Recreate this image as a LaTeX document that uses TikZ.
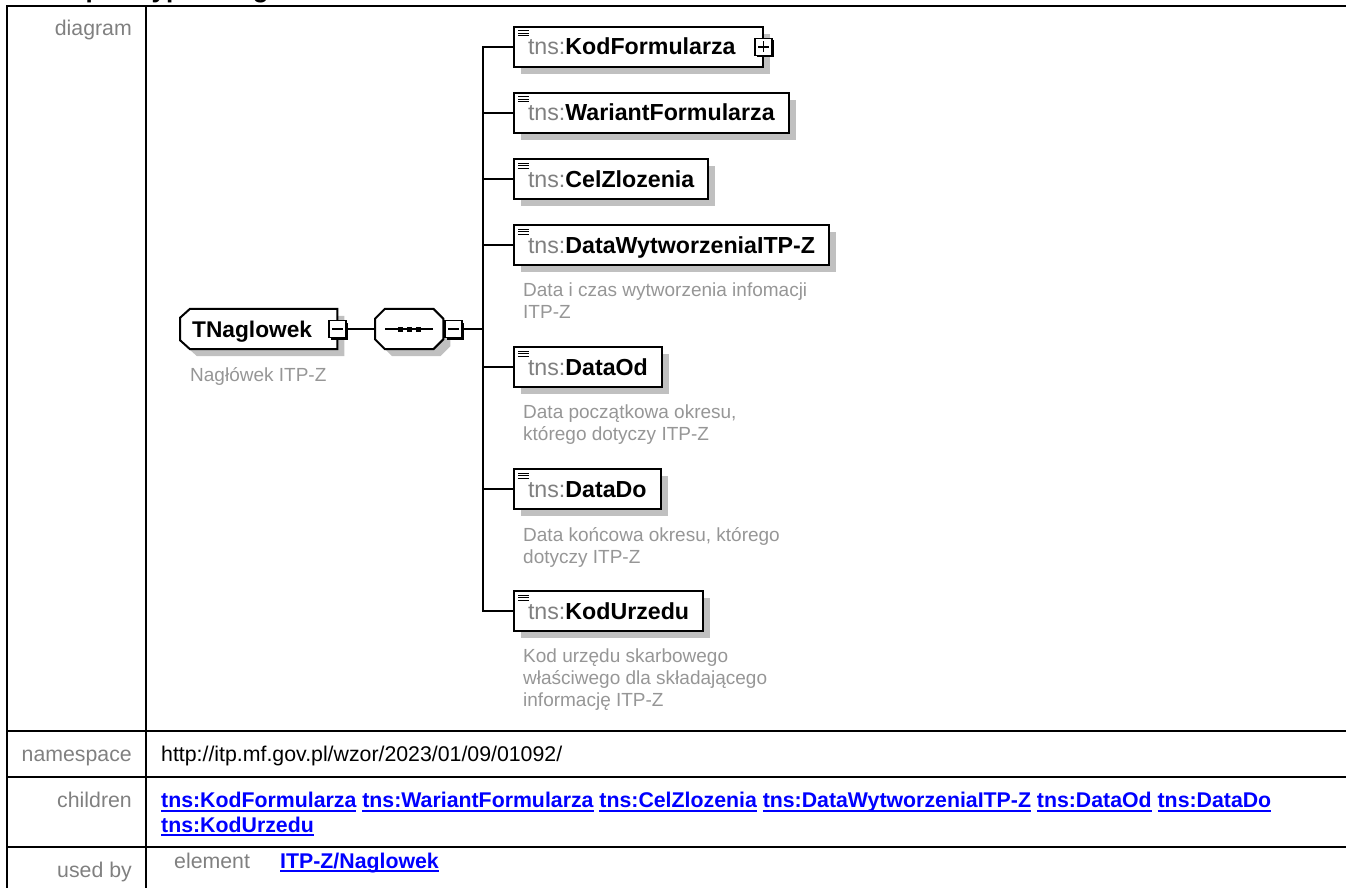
\documentclass[tikz,border=0pt]{standalone}
\usepackage{fontspec}
\setmainfont{Liberation Sans}
\usetikzlibrary{shadows}
\definecolor{labelgray}{RGB}{128,128,128}
\definecolor{prefixgray}{RGB}{128,128,128}
\definecolor{notegray}{RGB}{150,150,150}
\definecolor{shade}{RGB}{192,192,192}
\definecolor{linkblue}{RGB}{0,0,255}
\pgfdeclarelayer{back}
\pgfsetlayers{back,main}
\newcommand{\tns}[1]{{\color{prefixgray}tns:}\textbf{#1}}
\newcommand{\doclink}[1]{{\color{linkblue}\bfseries\setbox0=\hbox{#1}%
    \rlap{\rule[-4pt]{\wd0}{2pt}}\box0}}

\begin{document}
\begin{tikzpicture}[
    x=1pt, y=-1pt,
    grid/.style={line width=2pt},
    conn/.style={line width=1.5pt},
    rowlabel/.style={anchor=base east, inner sep=0pt, text=labelgray,
        font=\fontsize{21.3}{24.5}\selectfont},
    rowtext/.style={anchor=base west, inner sep=0pt,
        font=\fontsize{21.3}{24.5}\selectfont},
    elem/.style={draw, line width=2pt, fill=white, anchor=west,
        minimum height=40pt, inner xsep=14pt, inner ysep=0pt,
        text height=18pt, text depth=2pt,
        font=\fontsize{23.2}{27}\selectfont,
        drop shadow={shadow xshift=7pt, shadow yshift=-7pt, opacity=1,
            fill=shade},
        path picture={\foreach \k in {4,6.5,9}
            \draw[line width=1pt] ([xshift=4pt, yshift=-\k pt]path picture
                bounding box.north west) -- ++(11,0);}},
    note/.style={anchor=north west, inner sep=0pt, align=left,
        text=notegray, font=\fontsize{19}{22}\selectfont},
    toggle/.style={rectangle, draw, line width=1.5pt, fill=white,
        minimum size=17pt, inner sep=0pt,
        drop shadow={shadow xshift=2pt, shadow yshift=-2pt, opacity=1,
            fill=black}},
    minus/.style={toggle, path picture={
        \draw[line width=1.5pt] ([xshift=3pt]path picture bounding box.west)
            -- ([xshift=-3pt]path picture bounding box.east);}},
    plus/.style={toggle, path picture={
        \draw[line width=1.5pt] ([xshift=3pt]path picture bounding box.west)
            -- ([xshift=-3pt]path picture bounding box.east);
        \draw[line width=1.5pt] ([yshift=-3pt]path picture bounding box.north)
            -- ([yshift=3pt]path picture bounding box.south);}},
    ctype/.style={rectangle, anchor=west, minimum height=40pt,
        inner xsep=12pt, inner ysep=0pt, text height=18pt, text depth=2pt,
        font=\fontsize{22.7}{27}\selectfont},
    compositor/.style={rectangle, anchor=west, minimum height=40pt,
        minimum width=68pt, inner sep=0pt},
    outline/.style={draw, line width=2pt, fill=white,
        drop shadow={shadow xshift=7pt, shadow yshift=-7pt, opacity=1,
            fill=shade}},
]
    \useasboundingbox (0,0) rectangle (1346,888);

    %% heading above the table, mostly cut off
    \node[anchor=base west, inner sep=0pt,
        font=\fontsize{26}{30}\selectfont\bfseries] (heading) at (32,-2.4)
        {complexType TNaglowek};

    %% the table
    \draw[grid] (7,888) -- (7,6) -- (1346,6);
    \draw[grid] (146,6) -- (146,888);
    \foreach \y in {731,777,847}
        \draw[grid] (7,\y) -- (1346,\y);

    %% the row labels and their contents
    \node[rowlabel] (lbldiagram) at (132,36) {diagram};
    \node[rowlabel] (lblnamespace) at (132,761) {namespace};
    \node[rowlabel] (lblchildren) at (132,807) {children};
    \node[rowlabel] (lblusedby) at (132,877) {used by};
    \node[rowtext] (nsuri) at (161,761)
        {http://itp.mf.gov.pl/wzor/2023/01/09/01092/};
    \node[rowtext, anchor=north west, align=left] (childlinks) at (161,792)
        {\doclink{tns:KodFormularza} \doclink{tns:WariantFormularza}
        \doclink{tns:CelZlozenia} \doclink{tns:DataWytworzeniaITP-Z}
        \doclink{tns:DataOd} \doclink{tns:DataDo}\\
        \doclink{tns:KodUrzedu}};
    \node[rowtext, text=labelgray] (usedkind) at (174,868) {element};
    \node[rowtext] (usedlink) at (280,868) {\doclink{ITP-Z/Naglowek}};

    %% the complex type and its sequence
    \node[ctype] (tn) at (180,329) {\textbf{TNaglowek}\kern13pt};
    \node[minus] (tnminus) at (tn.east) {};
    \node[note] (tnnote) at (190,367) {Nagłówek ITP-Z};
    \node[compositor] (seq) at (375,329) {};
    \node[minus] (seqminus) at ([xshift=10pt]seq.east) {};
    \coordinate (fork) at (483,329);
    \begin{pgfonlayer}{back}
        \path[outline] ([xshift=10pt]tn.north west) -- (tn.north east)
            -- (tn.south east) -- ([xshift=10pt]tn.south west)
            -- ([yshift=9pt]tn.south west) -- ([yshift=-9pt]tn.north west)
            -- cycle;
        \path[outline] ([xshift=10pt]seq.north west)
            -- ([xshift=-10pt]seq.north east) -- ([yshift=-10pt]seq.north east)
            -- ([yshift=10pt]seq.south east) -- ([xshift=-10pt]seq.south east)
            -- ([xshift=10pt]seq.south west) -- ([yshift=10pt]seq.south west)
            -- ([yshift=-10pt]seq.north west) -- cycle;
    \end{pgfonlayer}
    % the sequence mark
    \draw[line width=1.5pt] ([xshift=10pt]seq.west) -- ([xshift=-10pt]seq.east);
    \foreach \dx in {-9,0,9}
        \fill ([xshift=\dx pt]seq.center) +(-2.5,-2.5) rectangle +(2.5,2.5);

    %% the children
    \node[elem] (kod) at (513,47) {\tns{KodFormularza}\kern13pt};
    \node[plus] (kodplus) at (kod.east) {};
    \node[elem] (wariant) at (513,113) {\tns{WariantFormularza}};
    \node[elem] (cel) at (513,179) {\tns{CelZlozenia}};
    \node[elem] (datawyt) at (513,245) {\tns{DataWytworzeniaITP-Z}};
    \node[note] (datawytnote) at (523,283)
        {Data i czas wytworzenia infomacji\\ITP-Z};
    \node[elem] (dataod) at (513,367) {\tns{DataOd}};
    \node[note] (dataodnote) at (523,405)
        {Data początkowa okresu,\\którego dotyczy ITP-Z};
    \node[elem] (datado) at (513,489) {\tns{DataDo}};
    \node[note] (datadonote) at (523,527)
        {Data końcowa okresu, którego\\dotyczy ITP-Z};
    \node[elem] (kodurz) at (513,611) {\tns{KodUrzedu}};
    \node[note] (kodurznote) at (523,649)
        {Kod urzędu skarbowego\\właściwego dla składającego\\informację ITP-Z};

    %% connectors
    \draw[conn] (tnminus) -- (seq);
    \draw[conn] (seqminus) -- (fork);
    \foreach \c in {kod,wariant,cel,datawyt,dataod,datado,kodurz}
        \draw[conn] (fork) |- (\c.west);
\end{tikzpicture}
\end{document}
